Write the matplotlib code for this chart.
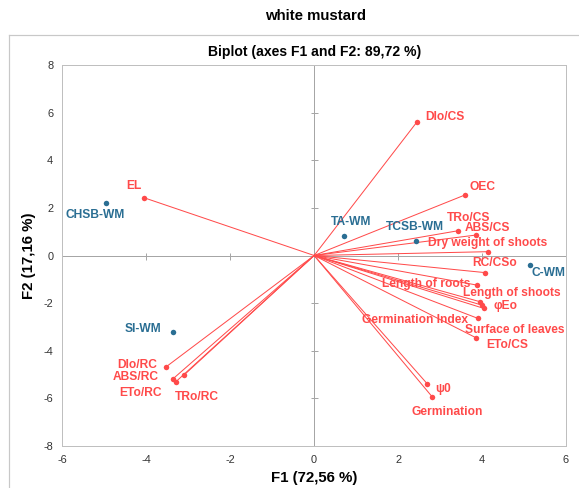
import matplotlib
matplotlib.use("Agg")
import matplotlib.pyplot as plt
from matplotlib.lines import Line2D

plt.rcParams['font.family'] = ['Liberation Sans', 'DejaVu Sans']

# Variables (red vectors)
var_names = ["DIo/CS", "OEC", "TRo/CS", "ABS/CS", "Dry weight of shoots", "RC/CSo",
             "Length of roots", "Length of shoots", "Surface of leaves", "φEo",
             "Germination Index", "ETo/CS", "ψ0", "Germination", "EL",
             "DIo/RC", "ABS/RC", "ETo/RC", "TRo/RC"]
var_x = [2.45, 3.59, 3.43, 3.86, 4.13, 4.08, 3.87, 3.95, 3.99, 4.04, 3.90, 3.85,
         2.69, 2.81, -4.06, -3.53, -3.37, -3.30, -3.10]
var_y = [5.61, 2.54, 1.04, 0.86, 0.16, -0.72, -1.24, -1.94, -2.08, -2.22, -2.64, -3.45,
         -5.38, -5.93, 2.43, -4.68, -5.19, -5.31, -5.02]

# Observations (blue points)
obs_names = ["CHSB-WM", "TA-WM", "TCSB-WM", "SI-WM", "C-WM"]
obs_x = [-4.96, 0.70, 2.43, -3.36, 5.15]
obs_y = [2.19, 0.82, 0.62, -3.20, -0.40]

x_ticks = [-6, -4, -2, 0, 2, 4, 6]
y_ticks = [-8, -6, -4, -2, 0, 2, 4, 6, 8]

# label offsets in pixels (dx, dy, ha)
var_off = {
    "DIo/CS": (8, 5, "left"), "OEC": (5, 8, "left"), "TRo/CS": (-11, 13, "left"),
    "ABS/CS": (-11, 7, "left"), "Dry weight of shoots": (-60, 9, "left"),
    "RC/CSo": (-13, 10, "left"), "Length of roots": (-95, 1, "left"),
    "Length of shoots": (-17, 9, "left"), "Surface of leaves": (-17, -25, "left"),
    "φEo": (10, 2, "left"), "Germination Index": (-116, -2, "left"),
    "ETo/CS": (10, -7, "left"), "ψ0": (8, -5, "left"), "Germination": (-21, -15, "left"),
    "EL": (-17, 12, "left"), "DIo/RC": (-49, 2, "left"), "ABS/RC": (-60, 2, "left"),
    "ETo/RC": (-56, -11, "left"), "TRo/RC": (-9, -22, "left"),
}
obs_off = {
    "CHSB-WM": (-40, -12, "left"), "TA-WM": (-13, 14, "left"),
    "TCSB-WM": (-30, 14, "left"), "SI-WM": (-48, 3, "left"), "C-WM": (1, -8, "left"),
}

RED = "#FF4A4A"
BLUE = "#2A6E93"
GRAY = "#BFBFBF"

W, H = 579, 488
fig = plt.figure(figsize=(W / 72, H / 72), dpi=72)
ax = fig.add_axes([62.3 / W, (H - 446) / H, (566 - 62.3) / W, (446 - 65) / H])

ax.set_xlim(-6, 6)
ax.set_ylim(-8, 8)
ax.set_xticks(x_ticks)
ax.set_yticks(y_ticks)
ax.set_xticklabels([str(t) for t in x_ticks])
ax.set_yticklabels([str(t) for t in y_ticks])
ax.tick_params(axis="y", length=0, labelsize=11, colors="#333333", pad=9)
ax.tick_params(axis="x", length=0, labelsize=11, colors="#333333", pad=9)
for s in ax.spines.values():
    s.set_color(GRAY)
    s.set_linewidth(1.0)

ax.axhline(0, color="#A6A6A6", lw=1, zorder=1)
ax.axvline(0, color="#A6A6A6", lw=1, zorder=1)
# small tick marks on the zero lines
ax.plot([0] * len(y_ticks), y_ticks, ls="none", marker="_", ms=7, color="#A6A6A6", zorder=1)
ax.plot(x_ticks, [0] * len(x_ticks), ls="none", marker="|", ms=7, color="#A6A6A6", zorder=1)

for n, x, y in zip(var_names, var_x, var_y):
    ax.plot([0, x], [0, y], color=RED, lw=1, zorder=2)
ax.scatter(var_x, var_y, s=30, color=RED, zorder=3, linewidths=0)
for n, x, y in zip(var_names, var_x, var_y):
    dx, dy, ha = var_off[n]
    ax.annotate(n, (x, y), xytext=(dx, dy), textcoords="offset points", ha=ha,
                va="center", color=RED, fontsize=12, fontweight="bold", zorder=4)

ax.scatter(obs_x, obs_y, s=30, color=BLUE, zorder=3, linewidths=0)
for n, x, y in zip(obs_names, obs_x, obs_y):
    dx, dy, ha = obs_off[n]
    ax.annotate(n, (x, y), xytext=(dx, dy), textcoords="offset points", ha=ha,
                va="center", color=BLUE, fontsize=12, fontweight="bold", zorder=4)

ax.set_xlabel("F1 (72,56 %)", fontsize=15, fontweight="bold", labelpad=6)
ax.set_ylabel("F2 (17,16 %)", fontsize=15, fontweight="bold", labelpad=8)
ax.set_title("Biplot (axes F1 and F2: 89,72 %)", fontsize=14, fontweight="bold", pad=9)

fig.text(316 / W, 1 - 16 / H, "white mustard", ha="center", va="center",
         fontsize=15, fontweight="bold")
# outer frame
fig.add_artist(Line2D([9 / W, 1], [1 - 35 / H, 1 - 35 / H], color="#C8C8C8", lw=1.2,
                      transform=fig.transFigure))
fig.add_artist(Line2D([9 / W, 9 / W], [0, 1 - 35 / H], color="#C8C8C8", lw=1.2,
                      transform=fig.transFigure))

fig.savefig("out.png", dpi=72, facecolor="white")
